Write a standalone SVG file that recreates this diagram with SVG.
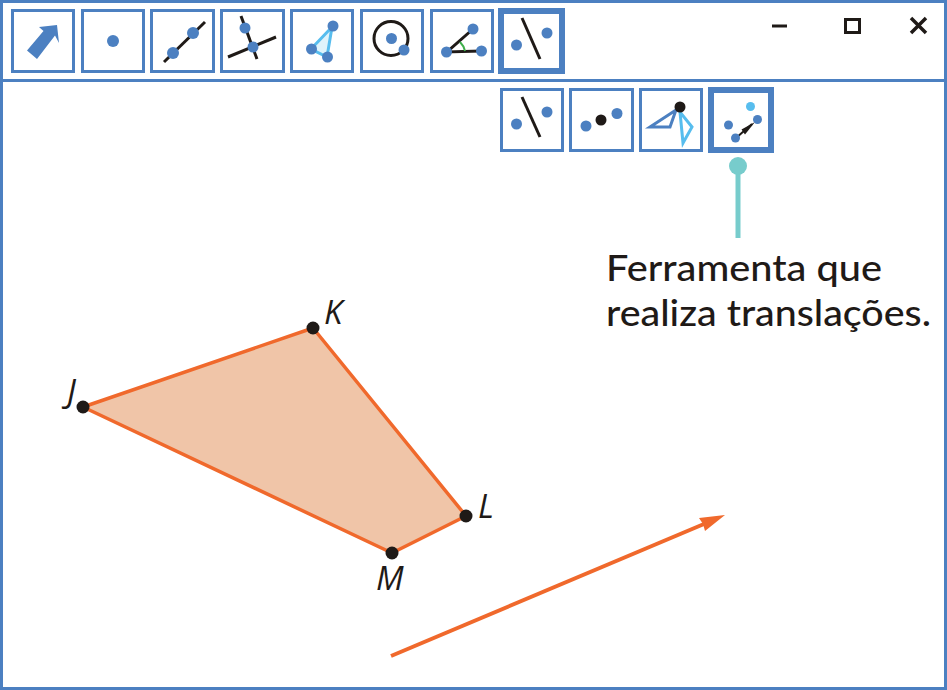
<svg xmlns="http://www.w3.org/2000/svg" width="947" height="690" viewBox="0 0 947 690">
<style>
.btn{fill:#fff;stroke:#4c80c1;stroke-width:3}
.sel{fill:#fff;stroke:#4c80c1;stroke-width:6}
.b{fill:#4c80c1}
.k{fill:#1f1a17}
.ln{stroke:#1f1a17;stroke-width:3;fill:none}
.lab{font-family:"Open Sans","Noto Sans",sans-serif;font-style:italic;font-weight:500;font-size:33px;fill:#1f1a17}
.cap{font-family:Lato,"Noto Sans",sans-serif;font-size:36.500px;font-weight:500;fill:#1f1a17}
</style>
<rect width="947" height="690" fill="#fff"/>
<g id="window">
<rect x="1.500" y="1.500" width="944" height="687" fill="#fff" stroke="#4c80c1" stroke-width="3"/>
<line x1="0" y1="80.500" x2="947" y2="80.500" stroke="#4c80c1" stroke-width="3"/>
</g>
<g id="tool-move"><rect class="btn" x="12.500" y="10.500" width="61" height="61"/>
<polygon class="b" points="27,50.500 43.500,31 39,27 57,25 59,43 55,35.500 37,59"/></g>
<g id="tool-point"><rect class="btn" x="82.500" y="10.500" width="61" height="61"/>
<circle class="b" cx="113" cy="41" r="6"/></g>
<g id="tool-line"><rect class="btn" x="151.500" y="10.500" width="62" height="61"/>
<line class="ln" x1="164" y1="62" x2="205" y2="22"/><circle class="b" cx="173" cy="53" r="6"/><circle class="b" cx="193" cy="33" r="6"/></g>
<g id="tool-perpendicular"><rect class="btn" x="221.500" y="10.500" width="62" height="61"/>
<line class="ln" x1="228" y1="57" x2="276" y2="37"/><line class="ln" x1="241" y1="16" x2="257" y2="59"/><circle class="b" cx="245" cy="28" r="5.500"/><circle class="b" cx="253" cy="47" r="5.500"/></g>
<g id="tool-polygon"><rect class="btn" x="291.500" y="10.500" width="61" height="61"/>
<polygon points="332,27 311,49 327,57" fill="#dff3fb" stroke="#57bdee" stroke-width="3"/><circle class="b" cx="333" cy="26" r="5.500"/><circle class="b" cx="311.500" cy="49" r="5.500"/><circle class="b" cx="327.500" cy="57" r="5.500"/></g>
<g id="tool-circle"><rect class="btn" x="361.500" y="10.500" width="61" height="61"/>
<circle class="ln" cx="391" cy="38.500" r="17"/><circle class="b" cx="391.500" cy="38.500" r="5.500"/><circle class="b" cx="404" cy="50" r="5.500"/></g>
<g id="tool-angle"><rect class="btn" x="431.500" y="10.500" width="61" height="61"/>
<polyline class="ln" points="473,29 447,52 481,51"/><path d="M460 42Q464 46 465 51" fill="none" stroke="#3fae4a" stroke-width="2"/><circle class="b" cx="473" cy="29" r="5.500"/><circle class="b" cx="446.500" cy="52" r="5.500"/><circle class="b" cx="481.500" cy="51" r="5.500"/></g>
<g id="tool-reflect"><rect class="sel" x="501" y="11" width="61" height="60"/>
<line class="ln" x1="522" y1="18" x2="540" y2="59"/><circle class="b" cx="516.500" cy="45" r="5.500"/><circle class="b" cx="547" cy="33" r="5.500"/></g>
<g id="tool-reflect-line"><rect class="btn" x="501.500" y="89.500" width="61" height="61"/>
<line class="ln" x1="522" y1="97" x2="540" y2="137"/><circle class="b" cx="516.500" cy="124" r="5.500"/><circle class="b" cx="547" cy="112" r="5.500"/></g>
<g id="tool-reflect-point"><rect class="btn" x="570.500" y="89.500" width="62" height="61"/>
<circle class="b" cx="586" cy="126" r="5.500"/><circle class="k" cx="601" cy="120" r="5.500"/><circle class="b" cx="617" cy="113.500" r="5.500"/></g>
<g id="tool-rotate"><rect class="btn" x="640.500" y="89.500" width="61" height="61"/>
<polygon points="676,110 650,127 670,127" fill="none" stroke="#4c80c1" stroke-width="3"/><polygon points="680,112 683,143 692,127" fill="none" stroke="#57bdee" stroke-width="3"/><circle class="k" cx="680" cy="107" r="5.500"/></g>
<g id="tool-translate"><rect class="sel" x="711" y="90" width="60" height="60"/>
<circle cx="750.500" cy="106.500" r="4.500" fill="#57bdee"/><circle class="b" cx="728.500" cy="125" r="4.500"/>
<line x1="736" y1="138" x2="752" y2="124" stroke="#1f1a17" stroke-width="2"/><polygon class="k" points="755,122 741.500,129.500 745,134.500"/><circle class="b" cx="735.500" cy="138" r="4.500"/><circle class="b" cx="757.500" cy="119.500" r="4.500"/></g>
<g id="window-controls" fill="none" stroke="#1f1a17" stroke-width="3">
<line x1="772" y1="26" x2="787" y2="26"/><rect x="845.500" y="19.500" width="14" height="13"/><path d="M911 18L926 33M926 18L911 33" stroke-width="3.500"/></g>
<g id="callout"><line x1="738" y1="166" x2="738" y2="238" stroke="#77cccc" stroke-width="5"/><circle cx="738" cy="166" r="9" fill="#77cccc"/>
<text class="cap"><tspan x="606" y="281" textLength="276" lengthAdjust="spacingAndGlyphs">Ferramenta que</tspan><tspan x="606" y="326" textLength="325" lengthAdjust="spacingAndGlyphs">realiza translações.</tspan></text></g>
<g id="quadrilateral"><polygon points="83,407 313,328 466,516 392,553" fill="#f0c5a8" stroke="#f0692c" stroke-width="3.500" stroke-linejoin="round"/></g>
<g id="vertices"><circle class="k" cx="83" cy="407" r="6.500"/><circle class="k" cx="313" cy="328" r="6.500"/><circle class="k" cx="466" cy="516" r="6.500"/><circle class="k" cx="392" cy="553" r="6.500"/>
<text class="lab" x="67" y="403">J</text><text class="lab" x="324" y="324">K</text><text class="lab" x="478" y="518">L</text><text class="lab" x="376" y="590">M</text></g>
<g id="connectors"><line x1="391" y1="656" x2="704" y2="524" stroke="#f0692c" stroke-width="4"/><polygon points="725,515 699,518 703,524 705,531" fill="#f0692c"/></g>
</svg>
